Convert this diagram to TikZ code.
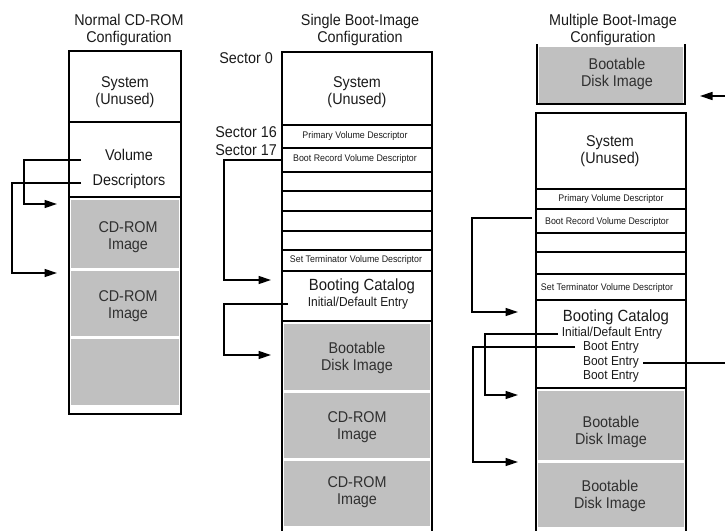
\documentclass[tikz,border=0pt]{standalone}
\usepackage{fontspec}
\setmainfont{Liberation Sans}[FakeStretch=0.92]
\usetikzlibrary{arrows.meta}
\definecolor{cellgray}{HTML}{C0C0C0}
\definecolor{ink}{HTML}{1A1A1A}
\definecolor{grayink}{HTML}{303030}
\begin{document}
\begin{tikzpicture}[x=1pt,y=-1pt,
  big/.style={font=\fontsize{15.6}{17}\selectfont, align=center, inner sep=0pt, text=ink},
  bigg/.style={big, text=grayink},
  cat/.style={font=\fontsize{16.2}{17}\selectfont, inner sep=0pt, text=ink},
  mid/.style={font=\fontsize{13}{14}\selectfont, inner sep=0pt, text=ink},
  small/.style={font=\fontsize{9.6}{10}\selectfont, inner sep=0pt, text=ink},
  boxline/.style={line width=2.2pt, line cap=rect},
  divl/.style={line width=1.8pt},
  conn/.style={line width=1.4pt},
  arr/.style={conn, -{Triangle[length=12.5pt,width=8pt]}}]
\useasboundingbox (0,0) rectangle (725,530);
\clip (0,0) rectangle (725,530);

% ---------------- Column 1 ----------------
\fill[cellgray] (71,200) rectangle (179,268);
\fill[cellgray] (71,271) rectangle (179,336);
\fill[cellgray] (71,339) rectangle (179,405);
\draw[boxline] (69,51) rectangle (181,414);
\draw[boxline] (69,122) -- (181,122);
\draw[boxline] (69,197) -- (181,197);

\node[big] (t1) at (129,29.5) {Normal CD-ROM\\Configuration};
\node[big] (sys1) at (125,92.5) {System\\(Unused)};
\node[big] (vol1) at (129,155) {Volume};
\node[big] (desc1) at (129,181) {Descriptors};
\node[bigg] (img1a) at (128,237.5) {CD-ROM\\Image};
\node[bigg] (img1b) at (128,306.5) {CD-ROM\\Image};

\coordinate (c1a) at (81,160);
\coordinate (c1b) at (81,183);
\coordinate (in1a) at (57,204);
\coordinate (in1b) at (57,273);
\draw[arr] (c1a) -- (24,160) |- (in1a);
\draw[arr] (c1b) -- (12,183) |- (in1b);

% ---------------- Column 2 ----------------
\fill[cellgray] (284,324) rectangle (430,390);
\fill[cellgray] (284,393) rectangle (430,458);
\fill[cellgray] (284,461) rectangle (430,526);
\draw[boxline] (282,540) -- (282,52) -- (432,52) -- (432,540);
\foreach \yy in {125,148,172,191,211,231,250,271}
  \draw[divl] (282,\yy) -- (432,\yy);
\draw[boxline] (282,321) -- (432,321);

\node[big] (t2) at (360,29.5) {Single Boot-Image\\Configuration};
\node[big, anchor=east] (s0) at (273,58) {Sector 0};
\node[big, anchor=east] (s16) at (277,132) {Sector 16};
\node[big, anchor=east] (s17) at (277,150) {Sector 17};
\node[big] (sys2) at (357,92) {System\\(Unused)};
\node[small] (pvd2) at (355,136) {Primary Volume Descriptor};
\node[small] (brvd2) at (355,159) {Boot Record Volume Descriptor};
\node[small] (stvd2) at (356,260) {Set Terminator Volume Descriptor};
\node[cat] (bc2) at (362,286) {Booting Catalog};
\node[mid] (ide2) at (358,303) {Initial/Default Entry};
\node[bigg] (bdi2) at (357,358) {Bootable\\Disk Image};
\node[bigg] (img2a) at (357,427) {CD-ROM\\Image};
\node[bigg] (img2b) at (357,492) {CD-ROM\\Image};

\coordinate (c2a) at (283,160);
\coordinate (c2b) at (288,304);
\coordinate (in2a) at (271,280);
\coordinate (in2b) at (271,355);
\draw[arr] (c2a) -- (224,160) |- (in2a);
\draw[arr] (c2b) -- (224,304) |- (in2b);

% ---------------- Column 3 ----------------
\fill[cellgray] (539,47) rectangle (683,103);
\draw[boxline] (537,45) -- (537,104) -- (685,104) -- (685,45);
\fill[cellgray] (538,391) rectangle (684,460);
\fill[cellgray] (538,463) rectangle (684,527);
\draw[boxline] (536,540) -- (536,113) -- (686,113) -- (686,540);
\foreach \yy in {189,209,233,274,300}
  \draw[divl] (536,\yy) -- (686,\yy);
\draw[line width=2.6pt] (536,252) -- (686,252);
\draw[boxline] (536,388) -- (686,388);

\node[big] (t3) at (613,29.5) {Multiple Boot-Image\\Configuration};
\node[bigg] (bdi3top) at (617,74) {Bootable\\Disk Image};
\node[big] (sys3) at (610,151.5) {System\\(Unused)};
\node[small] (pvd3) at (611,199) {Primary Volume Descriptor};
\node[small] (brvd3) at (607,222) {Boot Record Volume Descriptor};
\node[small] (stvd3) at (607,288) {Set Terminator Volume Descriptor};
\node[cat] (bc3) at (616,317) {Booting Catalog};
\node[mid] (ide3) at (612,333) {Initial/Default Entry};
\node[mid] (be3a) at (611,347) {Boot Entry};
\node[mid] (be3b) at (611,362) {Boot Entry};
\node[mid] (be3c) at (611,376) {Boot Entry};
\node[bigg] (bdi3a) at (611,432) {Bootable\\Disk Image};
\node[bigg] (bdi3b) at (610,496) {Bootable\\Disk Image};

\coordinate (c3a) at (532,218);
\coordinate (c3b) at (558,334);
\coordinate (c3c) at (575,347);
\coordinate (c3d) at (643,363);
\coordinate (in3a) at (518,312);
\coordinate (in3b) at (518,395);
\coordinate (in3c) at (518,462);
\coordinate (in3top) at (700,96);
\draw[arr] (c3a) -- (472,218) |- (in3a);
\draw[arr] (c3b) -- (485,334) |- (in3b);
\draw[arr] (c3c) -- (473,347) |- (in3c);
\draw[arr] (c3d) -- (745,363) |- (in3top);
\end{tikzpicture}
\end{document}
